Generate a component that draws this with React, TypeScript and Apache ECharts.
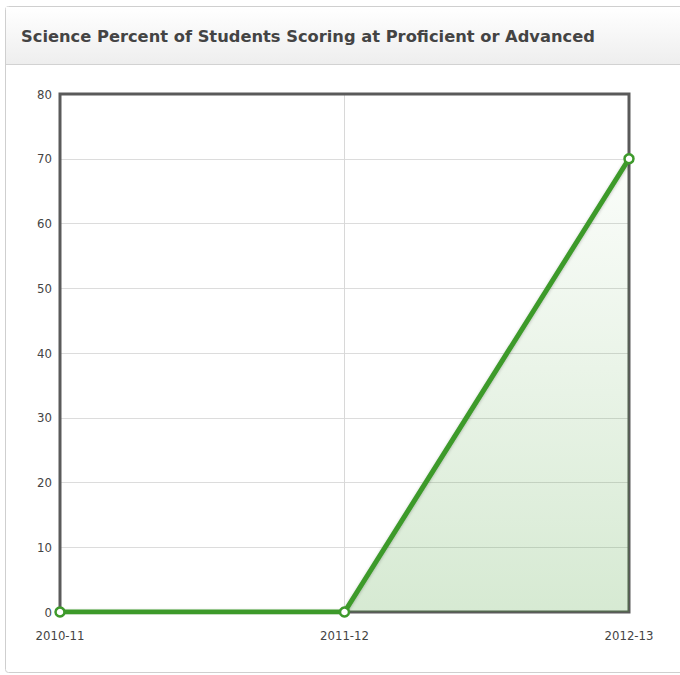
import React, { useEffect, useRef } from "react";
import * as echarts from "echarts";

const categories = ["2010-11", "2011-12", "2012-13"];
const values = [0, 0, 70];
const yTicks = { min: 0, max: 80, interval: 10 };
const titleText = "Science Percent of Students Scoring at Proficient or Advanced";

export default function App() {
  const ref = useRef<HTMLDivElement>(null);
  useEffect(() => {
    if (!ref.current) return;
    const chart = echarts.init(ref.current, null, { renderer: "svg" });
    const green = "#3e9a2c";
    chart.setOption({
      animation: false,
      backgroundColor: "#fff",
      graphic: [
        {
          type: "rect",
          z: -10,
          shape: { x: 5.5, y: 6.5, width: 700, height: 666, r: 3 },
          style: { fill: "#fff", stroke: "#cfcfcf", lineWidth: 1 },
        },
        {
          type: "rect",
          z: -9,
          shape: { x: 6, y: 7, width: 700, height: 57 },
          style: {
            fill: new echarts.graphic.LinearGradient(0, 0, 0, 1, [
              { offset: 0, color: "#ffffff" },
              { offset: 1, color: "#eeeeee" },
            ]),
          },
        },
        {
          type: "line",
          z: -8,
          shape: { x1: 6, y1: 64.5, x2: 700, y2: 64.5 },
          style: { stroke: "#d2d2d2", lineWidth: 1 },
        },
      ],
      title: {
        text: titleText,
        left: 21,
        top: 28,
        padding: 0,
        textStyle: {
          fontFamily: "DejaVu Sans",
          fontWeight: "bold",
          fontSize: 16.3,
          color: "#444",
        },
      },
      grid: {
        left: 60,
        right: 51,
        top: 94,
        bottom: 63,
        show: true,
        z: 4,
        borderColor: "#5a5a5a",
        borderWidth: 3,
        backgroundColor: "transparent",
      },
      xAxis: {
        type: "category",
        data: categories,
        boundaryGap: false,
        axisLine: { show: false },
        axisTick: { show: false },
        axisLabel: {
          margin: 17,
          fontSize: 13,
          fontFamily: "DejaVu Sans Condensed, DejaVu Sans",
          color: "#444",
        },
        splitLine: { show: true, lineStyle: { color: "#d8d8d8", width: 1 } },
      },
      yAxis: {
        type: "value",
        min: yTicks.min,
        max: yTicks.max,
        interval: yTicks.interval,
        axisLine: { show: false },
        axisTick: { show: false },
        axisLabel: {
          margin: 8,
          fontSize: 13,
          fontFamily: "DejaVu Sans Condensed, DejaVu Sans",
          color: "#444",
        },
        splitLine: { show: true, lineStyle: { color: "#dcdcdc", width: 1 } },
      },
      series: [
        {
          type: "line",
          data: values,
          symbol: "circle",
          symbolSize: 9,
          showSymbol: true,
          lineStyle: {
            color: green,
            width: 5,
            shadowColor: "rgba(0,0,0,0.25)",
            shadowBlur: 3,
            shadowOffsetY: 1,
          },
          itemStyle: { color: "#fff", borderColor: green, borderWidth: 2.5 },
          areaStyle: {
            color: new echarts.graphic.LinearGradient(0, 0, 0, 1, [
              { offset: 0, color: "rgba(62,154,44,0.03)" },
              { offset: 1, color: "rgba(62,154,44,0.3)" },
            ]),
          },
          z: 5,
        },
      ],
    });
    return () => chart.dispose();
  }, []);
  return (
    <div
      ref={ref}
      style={{ position: "absolute", left: 0, top: 0, width: 680, height: 675 }}
    />
  );
}
